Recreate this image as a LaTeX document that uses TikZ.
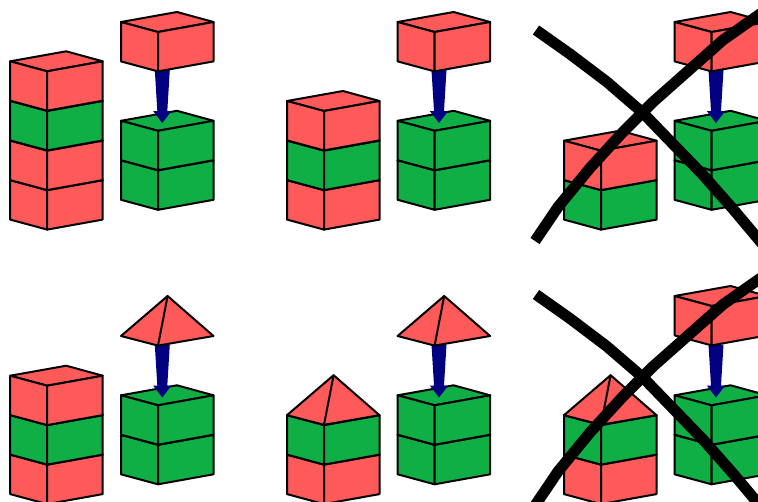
\documentclass[tikz,border=0pt]{standalone}
\definecolor{blockred}{HTML}{FF5A5A}
\definecolor{blockgreen}{HTML}{10AF45}
\definecolor{arrownavy}{HTML}{000080}
\tikzset{
  edgeline/.style={draw=black,line width=2pt,line join=round,line cap=round},
  crossline/.style={draw=black,line width=11pt,line join=round},
}
% #1 x of left corner, #2 y of left top corner, #3 colour
\newcommand{\blockcube}[3]{%
  \path[edgeline,fill=#3] (#1,#2) -- ++(37,10) -- ++(55.5,-10) -- ++(-36.5,-10) -- cycle;
  \path[edgeline,fill=#3] (#1,#2) -- ++(37,10) -- ++(0,39.4) -- ++(-37,-10) -- cycle;
  \path[edgeline,fill=#3] (#1+37,#2+10) -- ++(55.5,-10) -- ++(0,39.4) -- ++(-55.5,10) -- cycle;
}
% #1 x of left corner, #2 y of left corner
\newcommand{\blockpyramid}[2]{%
  \path[edgeline,fill=blockred] (#1,#2) -- (#1+46.6,#2-40) -- (#1+92.5,#2) -- (#1+37,#2+9.6) -- cycle;
  \path[edgeline] (#1+37,#2+9.6) -- (#1+46.6,#2-40);
}
% #1 x of arrow axis, #2 y of tip
\newcommand{\pusharrow}[2]{%
  \fill[arrownavy] (#1-7.5,#2-53) -- (#1+7.5,#2-53) -- (#1+5,#2-12) -- (#1+9.2,#2-12)
    -- (#1,#2) -- (#1-9.2,#2-12) -- (#1-5,#2-12) -- cycle;
}
\newcommand{\bigcross}[1]{%
  \begin{scope}[yshift=-#1pt]
    \path[crossline] (536,30) -- (570,54) -- (607,82) -- (643,113) -- (672,143) -- (703,175) -- (733,209) -- (770,253);
    \path[crossline] (535,241) -- (558,207) -- (590,168) -- (622,133) -- (653,102) -- (688,71) -- (723,40) -- (770,7);
  \end{scope}
}
\begin{document}
\begin{tikzpicture}[x=1pt,y=-1pt]
\clip (0,0) rectangle (758,501);
\fill[white] (0,0) rectangle (758,501);
% row 1, column 1
\blockcube{10.2}{180.2}{blockred}
\blockcube{10.2}{140.7}{blockred}
\blockcube{10.2}{101}{blockgreen}
\blockcube{10.2}{61.3}{blockred}
\blockcube{121}{160.4}{blockgreen}
\blockcube{121}{120.8}{blockgreen}
\pusharrow{162.3}{123}
\blockcube{121}{22}{blockred}
% row 1, column 2
\blockcube{287}{180.2}{blockred}
\blockcube{287}{140.7}{blockgreen}
\blockcube{287}{101}{blockred}
\blockcube{397.6}{160.4}{blockgreen}
\blockcube{397.6}{120.8}{blockgreen}
\pusharrow{439}{123}
\blockcube{397.6}{22}{blockred}
% row 1, column 3
\blockcube{564}{180.2}{blockgreen}
\blockcube{564}{140.7}{blockred}
\blockcube{674.6}{160.4}{blockgreen}
\blockcube{674.6}{120.8}{blockgreen}
\pusharrow{716}{123}
\blockcube{674.6}{22}{blockred}
\bigcross{0}
% row 2, column 1
\blockcube{10.2}{454.7}{blockred}
\blockcube{10.2}{415.2}{blockgreen}
\blockcube{10.2}{375.7}{blockred}
\blockcube{121}{434.9}{blockgreen}
\blockcube{121}{395.3}{blockgreen}
\pusharrow{162.3}{397.5}
\blockpyramid{121}{336}
% row 2, column 2
\blockcube{287}{454.7}{blockred}
\blockcube{287}{415.2}{blockgreen}
\blockpyramid{287}{415.2}
\blockcube{397.6}{434.9}{blockgreen}
\blockcube{397.6}{395.3}{blockgreen}
\pusharrow{439}{397.5}
\blockpyramid{397.6}{336}
% row 2, column 3
\blockcube{564}{454.7}{blockred}
\blockcube{564}{415.2}{blockgreen}
\blockpyramid{564}{415.2}
\blockcube{674.6}{434.9}{blockgreen}
\blockcube{674.6}{395.3}{blockgreen}
\pusharrow{716}{397.5}
\blockcube{674.6}{296}{blockred}
\bigcross{264.5}
\end{tikzpicture}
\end{document}
